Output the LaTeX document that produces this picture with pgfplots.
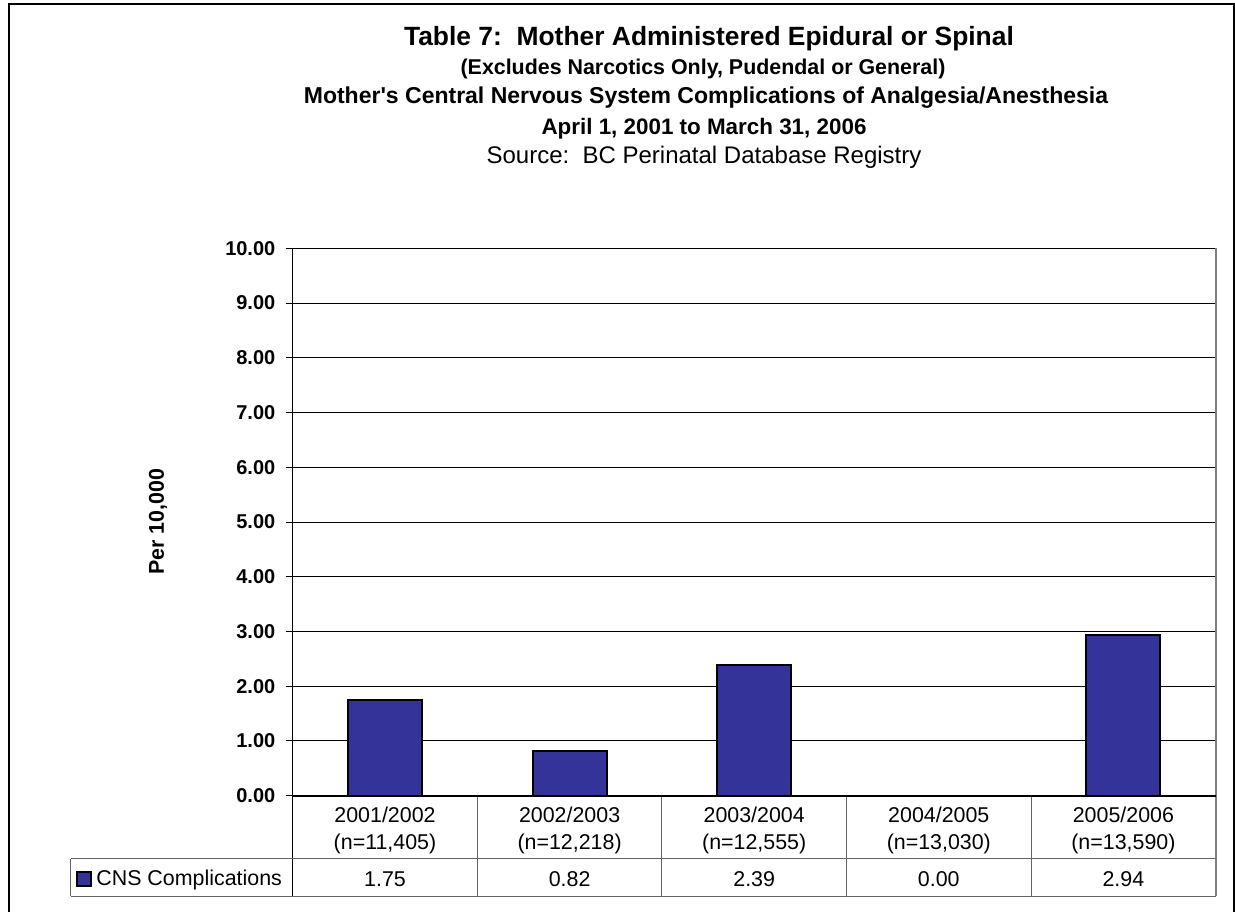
\documentclass[border=0pt]{standalone}
\usepackage{fontspec}
\setmainfont{Liberation Sans}[Ligatures=TeXOff]
\usepackage{pgfplots}
\pgfplotsset{compat=1.18}
\usepackage{pgfplotstable}

\definecolor{barblue}{RGB}{51,51,153}
\definecolor{rulegray}{RGB}{100,100,100}
\definecolor{edgegray}{RGB}{128,128,128}

% CNS complications per 10,000, one row per fiscal year
\pgfplotstableread{
x rate
0 1.75
1 0.82
2 2.39
3 0.00
4 2.94
}\cnsdata

\newcommand\fs[2]{\fontsize{#1}{#2}\selectfont}

\begin{document}
\begin{tikzpicture}
\begin{scope}[x=0.5pt,y=-0.5pt]
  \useasboundingbox (0,0) rectangle (1235,911);
  % chart frame
  \draw[line width=1pt] (8.5,940) -- (8.5,3.5) -- (1233.5,3.5) -- (1233.5,940);
  % titles
  \node[anchor=base, inner sep=0pt, font=\bfseries\fs{13.2}{15}] at (709,45)
    {Table 7:\ \ Mother Administered Epidural or Spinal};
  \node[anchor=base, inner sep=0pt, font=\bfseries\fs{10.7}{13}] at (703,74)
    {(Excludes Narcotics Only, Pudendal or General)};
  \node[anchor=base, inner sep=0pt, font=\bfseries\fs{11.5}{14}] at (706,103)
    {Mother's Central Nervous System Complications of Analgesia/Anesthesia};
  \node[anchor=base, inner sep=0pt, font=\bfseries\fs{11.2}{14}] at (704,134)
    {April 1, 2001 to March 31, 2006};
  \node[anchor=base, inner sep=0pt, font=\fs{12}{14}] at (704,163)
    {Source:\ \ BC Perinatal Database Registry};
\end{scope}

\begin{axis}[
  at={(146.35pt,-397.85pt)}, anchor=south west,
  scale only axis, width=461.5pt, height=273.7pt,
  xmin=-0.5, xmax=4.5, ymin=0, ymax=10,
  clip=false,
  axis line style={draw=none},
  ytick={0,1,...,10},
  ytick pos=left,
  ymajorgrids,
  major grid style={black, line width=0.5pt},
  ytick align=outside,
  major tick length=3.5pt,
  tick style={black, line width=0.5pt},
  xtick={0,1,2,3,4},
  xtick style={draw=none},
  xticklabels={{2001/2002\\(n=11,405)},{2002/2003\\(n=12,218)},{2003/2004\\(n=12,555)},{2004/2005\\(n=13,030)},{2005/2006\\(n=13,590)}},
  xticklabel style={font=\fs{10.7}{13.65}, align=center, anchor=north, inner sep=0pt, yshift=-5.35pt},
  /pgf/number format/assume math mode=true,
  yticklabel style={font=\bfseries\fs{10}{12}, anchor=east, inner sep=0pt, xshift=-5pt,
    /pgf/number format/fixed, /pgf/number format/fixed zerofill, /pgf/number format/precision=2},
  every axis y label/.style={at={(rel axis cs:0,0.5)}, xshift=-67.35pt, rotate=90, anchor=center,
    font=\bfseries\fs{10.7}{13}},
  ylabel={Per 10,000},
  legend style={at={(axis cs:-1.674,-1.522)}, anchor=west, draw=none, fill=none,
    inner sep=0pt, font=\fs{10.7}{13}, legend cell align=left},
  legend image code/.code={\draw[#1, line width=1pt] (0pt,-3.5pt) rectangle (7pt,3.5pt);},
]
  \addplot[ybar, bar width=0.4, fill=barblue, draw=black, line width=1pt,
    point meta=y,
    visualization depends on={y \as \yv},
    nodes near coords={\pgfmathprintnumber[fixed,fixed zerofill,precision=2]{\pgfplotspointmeta}},
    every node near coord/.append style={anchor=center, font=\fs{10.7}{13}, black,
      yshift={-(\yv+1.522)*27.37pt}},
  ] table[x=x, y=rate] {\cnsdata};
  \addlegendentry{CNS Complications}

  % plot area edges
  \draw[black, line width=0.5pt] (axis cs:-0.5,10) -- (axis cs:4.5,10);
  \draw[edgegray, line width=1pt] (axis cs:4.5,10) -- (axis cs:4.5,-1.832);
  \draw[black, line width=0.6pt] (axis cs:-0.5,10) -- (axis cs:-0.5,-1.832);
  % data table rules
  \draw[rulegray, line width=0.5pt] (axis cs:-1.701,-1.156) -- (axis cs:4.5,-1.156);
  \draw[rulegray, line width=0.5pt] (axis cs:-1.701,-1.832) -- (axis cs:4.5,-1.832);
  \draw[rulegray, line width=0.5pt] (axis cs:-1.701,-1.156) -- (axis cs:-1.701,-1.832);
  \pgfplotsinvokeforeach{0.5,1.5,2.5,3.5}{
    \draw[rulegray, line width=0.5pt] (axis cs:#1,0) -- (axis cs:#1,-1.832);
  }
  \draw[black, line width=1pt] (axis cs:-0.5,0) -- (axis cs:4.5,0);
\end{axis}
\end{tikzpicture}
\end{document}
